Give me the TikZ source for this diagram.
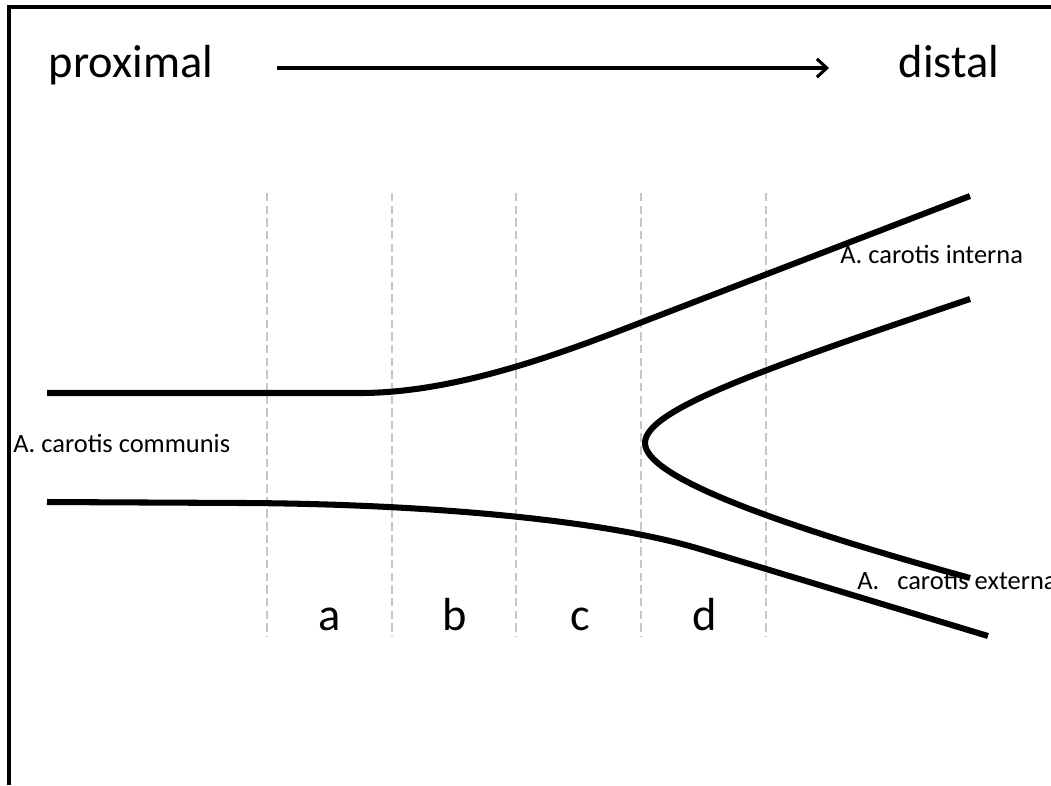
\documentclass[tikz,border=0pt]{standalone}
\usepackage{fontspec}
\setmainfont{Carlito}
\usetikzlibrary{arrows.meta}
\tikzset{
  vessel/.style={line width=4.3pt, line cap=butt},
  segline/.style={gray!45, line width=1.3pt, dash pattern=on 6pt off 3pt},
  bigtext/.style={font=\fontsize{33}{36}\selectfont, inner sep=0pt, anchor=base},
  smalltext/.style={font=\fontsize{18.8}{21}\selectfont, inner sep=0pt, anchor=base west}
}
\begin{document}
\begin{tikzpicture}[x=0.025cm,y=-0.025cm]
\useasboundingbox (0,0) rectangle (1051,785);
% frame
\draw[line width=2.2pt] (9,785) -- (9,7) -- (1051,7);
% direction
\node[bigtext] (prox) at (131,77) {proximal};
\node[bigtext] (dist) at (949,77) {distal};
\coordinate (arrs) at (277,68);
\coordinate (arre) at (829,68);
\draw[line width=2.2pt, -{Straight Barb[length=7pt,width=13pt,line width=2.2pt]}] (arrs) -- (arre);
% segments
\foreach \x in {267,392,516,641,766}
  \draw[segline] (\x,193) -- (\x,636);
\node[bigtext] (sa) at (330,630) {a};
\node[bigtext] (sb) at (455,630) {b};
\node[bigtext] (sc) at (580,630) {c};
\node[bigtext] (sd) at (705,630) {d};
% vessels
\draw[vessel] (47,393) -- (360,393) .. controls (460,393) and (570,350) .. (650,319) -- (970,196);
\draw[vessel] (47,502) -- (245,503) .. controls (420,504) and (600,519) .. (700,549) -- (988,636);
\draw[vessel] (970,299) .. controls (760,370) and (645,410) .. (645,443)
  .. controls (645,475) and (760,520) .. (970,578);
% labels
\node[smalltext] (comm) at (13,452) {A. carotis communis};
\node[smalltext] (int) at (840,263) {A. carotis interna};
\node[smalltext] (ext) at (857,589) {A.\ \ \ carotis externa};
\end{tikzpicture}
\end{document}
